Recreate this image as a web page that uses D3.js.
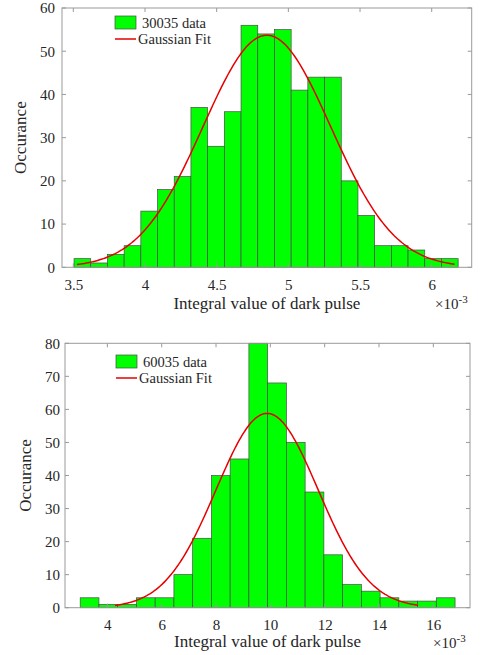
<!DOCTYPE html>
<html><head><meta charset="utf-8">
<script src="https://cdn.jsdelivr.net/npm/d3@7"></script>
<style>
body{margin:0;background:#fff;}
svg{display:block;}
svg text{font-family:"Liberation Serif","Times New Roman",Tinos,Times,"DejaVu Serif",serif !important;}
</style></head><body>
<svg id="chart" width="482" height="655"></svg>
<script>
// ---------- data (x in units of 1e-3) ----------
const topLegend = "30035 data";
const topCounts = [2,1,3,5,13,18,21,37,28,36,56,54,55,41,44,44,20,12,5,5,4,2,2];
const topBinStart = 3.505, topBinWidth = 0.1165;
const topXTicks = [3.5,4,4.5,5,5.5,6];
const topYTicks = [0,10,20,30,40,50,60];
const topFit = {mu:4.85, sigma:0.445, peak:53.7, from:3.525, to:6.16};

const botLegend = "60035 data";
const botCounts = [3,1,1,3,3,10,21,40,45,80,68,50,35,16,7,5,3,2,2,3];
const botBinStart = 3.0, botBinWidth = 0.69;
const botXTicks = [4,6,8,10,12,14,16];
const botYTicks = [0,10,20,30,40,50,60,70,80];
const botFit = {mu:9.88, sigma:1.88, peak:58.8, from:4.28, to:15.44};

const xLabel = "Integral value of dark pulse";
const yLabel = "Occurance";
const fitLabel = "Gaussian Fit";

const svg = d3.select("#chart");
const FONT = '"Liberation Serif","Times New Roman",Tinos,Times,"DejaVu Serif",serif';

function panel(cfg){
  const g = svg.append("g").attr("font-family", FONT);
  const x = d3.scaleLinear().domain(cfg.xDomain).range([cfg.left, cfg.right]);
  const y = d3.scaleLinear().domain(cfg.yDomain).range([cfg.bottom, cfg.top]);
  const axisCol = "#9a9a9a", textCol = "#262626", tl = 4;

  // bars
  const bins = cfg.counts.map((c,i)=>({x0:cfg.binStart+i*cfg.binWidth, x1:cfg.binStart+(i+1)*cfg.binWidth, c}));
  g.selectAll("rect.bar").data(bins).enter().append("rect")
    .attr("x", d=>x(d.x0)).attr("width", d=>x(d.x1)-x(d.x0))
    .attr("y", d=>y(d.c)).attr("height", d=>y(0)-y(d.c))
    .attr("fill","#00ff00").attr("stroke","#4a4a4a").attr("stroke-width",0.7);

  // gaussian fit
  const f = cfg.fit;
  const pts = d3.range(0,201).map(i=>{const xv=f.from+(f.to-f.from)*i/200; return [xv, f.peak*Math.exp(-((xv-f.mu)**2)/(2*f.sigma*f.sigma))];});
  g.append("path").datum(pts)
    .attr("d", d3.line().x(d=>x(d[0])).y(d=>y(d[1])))
    .attr("fill","none").attr("stroke","#e60000").attr("stroke-width",1.5);

  // axes (box + inward ticks)
  const xb = d3.axisBottom(x).tickValues(cfg.xTicks).tickSize(0).tickPadding(12).tickFormat(d3.format("~g"));
  const gx = g.append("g").attr("transform",`translate(0,${cfg.bottom})`).call(xb).attr("font-family", FONT);
  gx.select(".domain").remove();
  gx.selectAll("text").attr("fill",textCol).style("font-size","15px");
  const yl = d3.axisLeft(y).tickValues(cfg.yTicks).tickSize(0).tickPadding(cfg.yPad);
  const gy = g.append("g").attr("transform",`translate(${cfg.left},0)`).call(yl).attr("font-family", FONT);
  gy.select(".domain").remove();
  gy.selectAll("text").attr("fill",textCol).style("font-size","15px");

  const tk = g.append("g").attr("stroke",axisCol).attr("stroke-width",1);
  cfg.xTicks.forEach(v=>{
    tk.append("line").attr("x1",x(v)).attr("x2",x(v)).attr("y1",cfg.bottom).attr("y2",cfg.bottom-tl);
    tk.append("line").attr("x1",x(v)).attr("x2",x(v)).attr("y1",cfg.top).attr("y2",cfg.top+tl);
  });
  cfg.yTicks.forEach(v=>{
    tk.append("line").attr("x1",cfg.left).attr("x2",cfg.left+tl).attr("y1",y(v)).attr("y2",y(v));
    tk.append("line").attr("x1",cfg.right).attr("x2",cfg.right-tl).attr("y1",y(v)).attr("y2",y(v));
  });
  g.append("rect").attr("x",cfg.left).attr("y",cfg.top).attr("width",cfg.right-cfg.left).attr("height",cfg.bottom-cfg.top)
    .attr("fill","none").attr("stroke",axisCol).attr("stroke-width",1);

  // labels
  g.append("text").attr("x",(cfg.left+cfg.right)/2).attr("y",cfg.xLabelY).attr("text-anchor","middle")
    .attr("fill",textCol).style("font-size","17px").text(xLabel);
  g.append("text").attr("transform",`translate(${cfg.yLabelX},${(cfg.top+cfg.bottom)/2}) rotate(-90)`)
    .attr("text-anchor","middle").attr("fill",textCol).style("font-size","17px").text(yLabel);
  const ex = g.append("text").attr("x",cfg.expX).attr("y",cfg.expY).attr("fill",textCol).style("font-size","15px");
  ex.append("tspan").text("\u00d710");
  ex.append("tspan").attr("dy",-6).style("font-size","11px").text("-3");

  // legend
  const L = cfg.legend;
  g.append("rect").attr("x",L.x).attr("y",L.y).attr("width",21).attr("height",13)
    .attr("fill","#00ff00").attr("stroke","#4a4a4a").attr("stroke-width",0.7);
  g.append("text").attr("x",L.x+27).attr("y",L.y+11.5).attr("fill",textCol).style("font-size","14.5px").text(cfg.legendText);
  g.append("line").attr("x1",L.x).attr("x2",L.x+21).attr("y1",L.y+23).attr("y2",L.y+23)
    .attr("stroke","#e60000").attr("stroke-width",1.5);
  g.append("text").attr("x",L.x+23).attr("y",L.y+27.5).attr("fill",textCol).style("font-size","14.5px").text(fitLabel);
}

panel({left:62, right:471.7, top:8, bottom:267.3, xDomain:[3.421,6.279], yDomain:[0,60],
  counts:topCounts, binStart:topBinStart, binWidth:topBinWidth, xTicks:topXTicks, yTicks:topYTicks, fit:topFit,
  yPad:7, xLabelY:309, yLabelX:26, expX:435, expY:309, legend:{x:115,y:16}, legendText:topLegend});

panel({left:65, right:470, top:343.3, bottom:607.7, xDomain:[2.44,17.35], yDomain:[0,80],
  counts:botCounts, binStart:botBinStart, binWidth:botBinWidth, xTicks:botXTicks, yTicks:botYTicks, fit:botFit,
  yPad:5, xLabelY:647, yLabelX:31, expX:433, expY:648, legend:{x:116,y:355}, legendText:botLegend});
</script>
</body></html>
